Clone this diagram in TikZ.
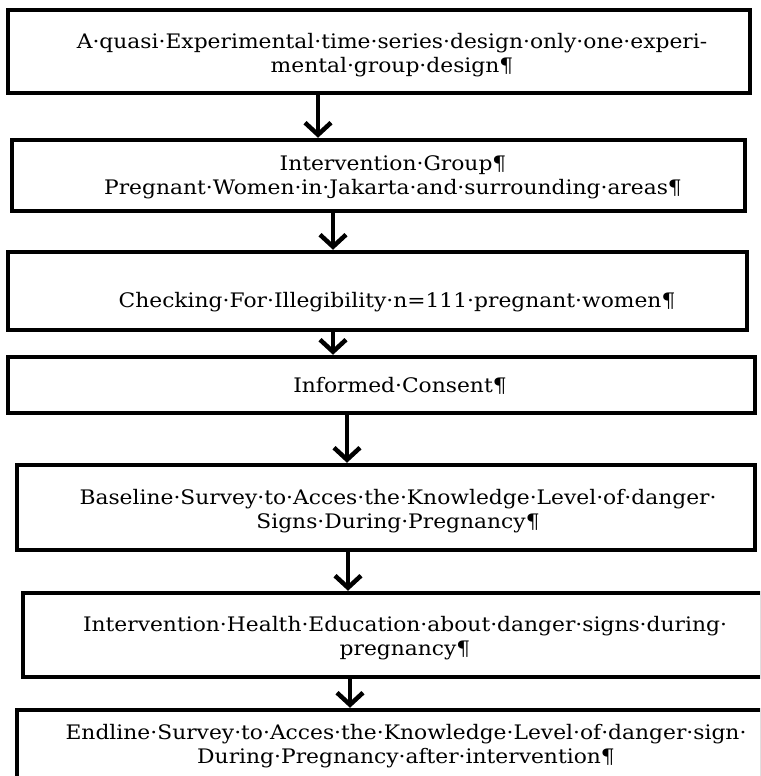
\documentclass[tikz,border=0pt]{standalone}
\usepackage{fontspec}
\setmainfont[FakeStretch=1.09]{DejaVu Serif}
\usetikzlibrary{arrows.meta}
\begin{document}
\begin{tikzpicture}[x=1pt,y=1pt,
        box/.style={draw,line width=4.5pt,inner sep=0pt},
        lbl/.style={align=center,inner sep=0pt,font=\fontsize{20}{24}\selectfont},
        flow/.style={line width=4.5pt,-{Straight Barb[length=12pt,width=26pt]}}]
                \useasboundingbox (0,0) rectangle (760,-776);
                \clip (0,0) rectangle (760,-776);
                \node[box,minimum width=742pt,minimum height=83pt] (design) at (379,-51.5) {};
                \node[box,minimum width=733pt,minimum height=71pt] (group) at (378.5,-175.5) {};
                \node[box,minimum width=739pt,minimum height=78pt] (check) at (377.5,-291) {};
                \node[box,minimum width=747pt,minimum height=56pt] (consent) at (381.5,-385) {};
                \node[box,minimum width=738pt,minimum height=85pt] (baseline) at (386,-507.5) {};
                \node[box,minimum width=739pt,minimum height=84pt] (health) at (392.5,-635) {};
                \node[box,minimum width=745pt,minimum height=68pt] (endline) at (389.5,-744) {};
                \node[lbl] (designtext) at (392,-55) {A·quasi·Experimental·time·series·design·only·one·experi-\\mental·group·design¶};
                \node[lbl] (grouptext) at (393,-177) {Intervention·Group¶\\Pregnant·Women·in·Jakarta·and·surrounding·areas¶};
                \node[lbl] (checktext) at (397,-302) {Checking·For·Illegibility·n=111·pregnant·women¶};
                \node[lbl] (consenttext) at (400,-386) {Informed·Consent¶};
                \node[lbl] (baselinetext) at (398,-511) {Baseline·Survey·to·Acces·the·Knowledge·Level·of·danger·\\Signs·During·Pregnancy¶};
                \node[lbl] (healthtext) at (405,-638) {Intervention·Health·Education·about·danger·signs·during·\\pregnancy¶};
                \node[lbl] (endlinetext) at (406,-746) {Endline·Survey·to·Acces·the·Knowledge·Level·of·danger·sign·\\During·Pregnancy·after·intervention¶};
                \draw[flow] ([xshift=-61pt]design.south) -- ([xshift=-61pt]design.south |- group.north);
                \draw[flow] ([xshift=-45.5pt]group.south) -- ([xshift=-45.5pt]group.south |- check.north);
                \draw[flow] ([xshift=-44.5pt]check.south) -- ([xshift=-44.5pt]check.south |- consent.north);
                \draw[flow] ([xshift=-34.5pt]consent.south) -- ([xshift=-34.5pt]consent.south |- baseline.north);
                \draw[flow] ([xshift=-38pt]baseline.south) -- ([xshift=-38pt]baseline.south |- health.north);
                \draw[flow] ([xshift=-42.5pt]health.south) -- ([xshift=-42.5pt]health.south |- endline.north);
            \end{tikzpicture}
\end{document}
